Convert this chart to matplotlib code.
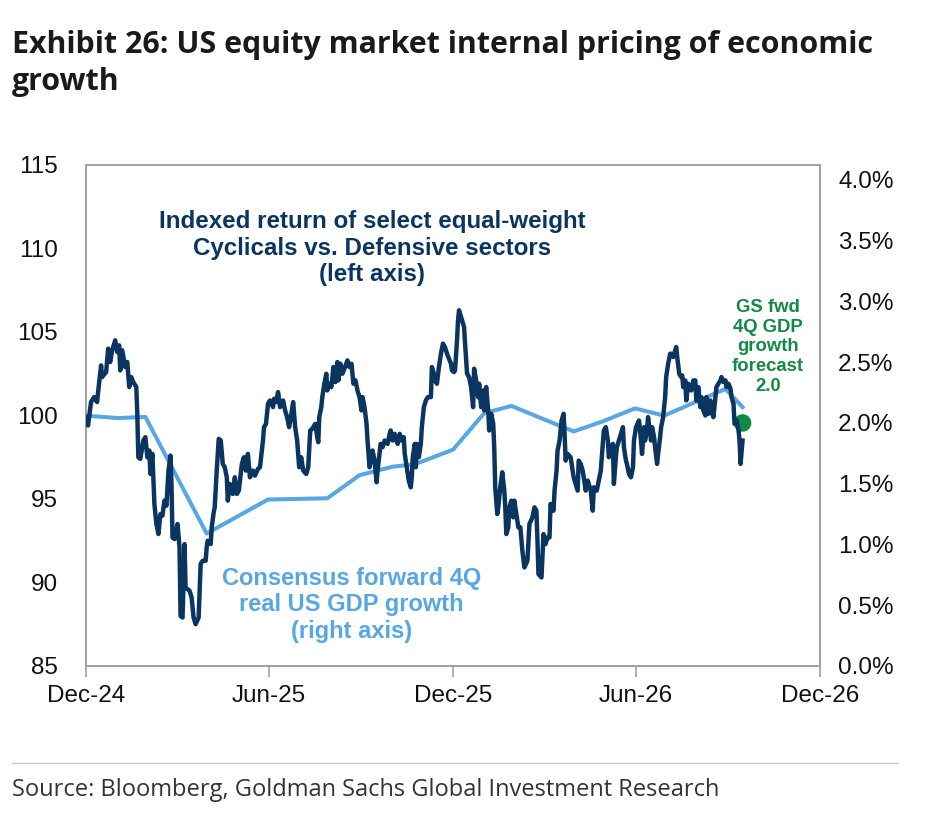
import matplotlib
matplotlib.use("Agg")
import matplotlib.pyplot as plt
from matplotlib.lines import Line2D
import numpy as np
import pandas as pd

# ---------------- data ----------------
start_date = "2024-12-01"

# Indexed return of select equal-weight Cyclicals vs. Defensives (left axis)
cyc_days = [0, 2, 5, 8, 11, 12, 15, 16, 20, 22, 24, 26, 29, 31, 33, 34, 36, 39, 41, 43,
            45, 47, 50, 51, 52, 54, 57, 59, 61, 63, 64, 66, 68, 70, 72, 74, 76, 78, 80, 82,
            84, 85, 86, 88, 91, 93, 94, 96, 98, 99, 103, 105, 107, 109, 112, 114, 116, 119, 120, 121,
            124, 125, 127, 128, 130, 132, 134, 136, 138, 140, 141, 143, 146, 148, 150, 152, 155, 157, 159, 161,
            163, 166, 168, 171, 173, 176, 177, 179, 181, 183, 186, 187, 189, 191, 193, 196, 198, 200, 202, 204,
            206, 208, 210, 212, 214, 216, 219, 221, 223, 225, 228, 230, 231, 232, 234, 235, 237, 239, 240, 242,
            244, 246, 248, 250, 251, 253, 255, 257, 260, 262, 264, 266, 268, 270, 272, 274, 275, 277, 279, 280,
            282, 284, 285, 287, 289, 290, 293, 295, 297, 300, 302, 303, 305, 307, 308, 310, 312, 314, 316, 317,
            319, 321, 323, 324, 325, 327, 328, 329, 331, 333, 334, 336, 338, 340, 343, 344, 346, 347, 349, 351,
            353, 355, 357, 359, 361, 363, 364, 366, 367, 369, 370, 371, 373, 376, 377, 379, 381, 383, 385, 386,
            388, 390, 391, 393, 395, 396, 398, 400, 401, 403, 405, 406, 407, 409, 410, 412, 414, 416, 417, 418,
            420, 421, 423, 425, 426, 428, 430, 432, 434, 436, 439, 441, 444, 446, 448, 449, 450, 453, 455, 457,
            459, 461, 462, 465, 466, 468, 469, 471, 473, 475, 476, 477, 479, 482, 484, 485, 487, 489, 490, 492,
            494, 495, 497, 499, 500, 502, 504, 505, 508, 510, 512, 514, 515, 517, 519, 520, 522, 524, 525, 527,
            528, 530, 532, 534, 535, 537, 538, 540, 542, 544, 545, 547, 550, 552, 553, 555, 556, 558, 559, 562,
            563, 565, 566, 568, 569, 571, 572, 574, 576, 577, 579, 581, 582, 584, 586, 587, 588, 590, 592, 593,
            594, 596, 597, 599, 601, 602, 604, 606, 607, 609, 611, 612, 614, 616, 617, 619, 621, 622, 624, 626,
            627, 629, 631, 632, 634, 636, 637, 639, 641, 642, 644, 645, 646, 647, 649, 650, 651, 653]
cyc_values = [99.9, 99.4, 100.8, 101.1, 100.8, 101.4, 103.0, 102.3, 102.6, 104.0, 103.2, 103.9, 104.5, 103.8, 104.2, 102.7, 103.9, 102.9, 103.2, 101.7,
              102.3, 102.0, 101.7, 100.1, 97.5, 97.4, 98.5, 98.7, 97.5, 97.9, 96.5, 97.7, 94.7, 93.5, 92.9, 94.1, 94.0, 94.9, 94.6, 96.7,
              97.6, 95.9, 92.7, 92.6, 93.5, 92.1, 88.0, 87.9, 92.3, 89.7, 89.5, 89.1, 87.9, 87.5, 87.9, 91.1, 91.3, 91.3, 92.1, 92.5,
              92.3, 93.3, 94.2, 94.5, 96.7, 98.6, 98.5, 97.1, 96.9, 96.3, 94.9, 95.9, 95.3, 96.3, 95.3, 95.5, 97.1, 97.5, 96.7, 97.7,
              96.3, 96.7, 96.4, 96.8, 96.9, 98.5, 99.3, 99.5, 100.7, 100.9, 100.5, 101.0, 100.8, 101.4, 100.5, 100.9, 100.3, 99.9, 99.3, 100.0,
              100.8, 99.3, 98.5, 96.9, 97.5, 96.7, 96.5, 96.9, 99.1, 99.2, 99.5, 98.7, 98.4, 99.9, 100.5, 101.1, 101.9, 102.5, 101.5, 101.9,
              101.7, 102.9, 102.0, 103.2, 102.1, 103.1, 102.5, 102.8, 103.3, 102.9, 103.1, 101.9, 102.1, 101.5, 101.1, 100.3, 101.1, 100.5, 99.5, 98.5,
              96.9, 97.5, 97.9, 97.3, 96.0, 96.7, 98.3, 98.1, 98.5, 98.3, 98.9, 99.1, 98.5, 98.9, 98.6, 98.3, 98.9, 98.5, 98.7, 97.7,
              96.9, 96.1, 95.7, 96.3, 97.5, 98.3, 96.9, 98.3, 97.5, 98.3, 99.3, 100.5, 100.9, 101.1, 101.1, 102.9, 102.5, 102.1, 101.9, 102.9,
              103.7, 104.3, 104.1, 103.7, 103.4, 103.1, 102.7, 102.6, 102.7, 104.5, 105.7, 106.3, 105.9, 105.3, 104.3, 102.5, 102.3, 101.7, 100.5, 102.8,
              102.1, 101.1, 101.9, 100.5, 101.5, 100.3, 101.7, 100.3, 99.1, 100.1, 99.5, 98.1, 95.7, 94.1, 94.5, 95.7, 96.6, 95.5, 94.5, 92.9,
              93.3, 94.5, 94.9, 93.9, 94.9, 94.1, 93.3, 93.3, 91.9, 90.9, 91.3, 93.5, 93.9, 94.5, 94.3, 92.5, 90.5, 90.3, 92.9, 92.3,
              92.7, 92.7, 94.7, 94.3, 95.5, 96.7, 97.9, 98.5, 99.7, 100.1, 98.9, 97.3, 97.7, 97.5, 96.7, 96.3, 95.9, 95.5, 97.3, 97.1,
              96.7, 96.3, 95.5, 96.1, 95.9, 95.5, 94.3, 95.7, 95.5, 96.1, 96.7, 98.3, 99.1, 99.3, 98.5, 97.5, 98.1, 98.3, 95.9, 97.5,
              98.1, 98.5, 98.9, 99.3, 98.1, 97.3, 97.1, 96.5, 96.3, 96.9, 98.5, 99.3, 99.7, 98.5, 97.7, 99.3, 98.5, 99.1, 99.9, 98.5,
              99.3, 98.7, 98.1, 97.1, 97.7, 98.7, 99.3, 99.9, 101.1, 102.3, 103.1, 103.7, 103.7, 103.5, 103.9, 104.1, 103.5, 102.5, 102.3, 102.4,
              101.7, 102.1, 100.9, 101.9, 101.7, 101.5, 102.1, 102.1, 100.9, 101.7, 100.5, 101.1, 100.3, 100.0, 101.1, 100.1, 100.9, 100.3, 99.9, 101.1,
              101.7, 101.9, 102.1, 102.3, 102.0, 102.1, 101.7, 101.9, 101.6, 101.1, 100.7, 99.5, 99.5, 99.7, 99.1, 98.5, 97.1, 98.5]

# Consensus forward 4Q real US GDP growth, % (right axis)
gdp_days = [0, 32, 59, 120, 181, 240, 272, 305, 327, 365, 396, 423, 485, 513, 546, 575, 636, 653]
gdp_values = [2.06, 2.04, 2.05, 1.09, 1.37, 1.38, 1.57, 1.64, 1.66, 1.78, 2.08, 2.14, 1.93, 2.01, 2.12, 2.06, 2.28, 2.13]

# GS forecast point
gs_day = 653
gs_value = 2.0

left_ticks = [85, 90, 95, 100, 105, 110, 115]
right_ticks = [0.0, 0.5, 1.0, 1.5, 2.0, 2.5, 3.0, 3.5, 4.0]
x_tick_dates = ["2024-12-01", "2025-06-01", "2025-12-01", "2026-06-01", "2026-12-01"]
x_tick_labels = ["Dec-24", "Jun-25", "Dec-25", "Jun-26", "Dec-26"]

# ---------------- styling ----------------
NAVY = "#0b3561"
LBLUE = "#56a7e3"
GREEN = "#138a43"
SPINE = "#a0a0a0"
TICKFONT = ["Liberation Sans", "DejaVu Sans"]
ANNFONT = ["Liberation Sans", "DejaVu Sans"]
HEADFONT = ["Open Sans", "DejaVu Sans"]

base = pd.Timestamp(start_date)
cyc_dates = base + pd.to_timedelta(cyc_days, unit="D")
gdp_dates = base + pd.to_timedelta(gdp_days, unit="D")
gs_date = base + pd.to_timedelta(gs_day, unit="D")

fig = plt.figure(figsize=(9.3, 8.22), dpi=100)
ax = fig.add_axes([0.0925, 0.1898, 0.7892, 0.6095])
ax2 = ax.twinx()

ax.plot(cyc_dates, cyc_values, color=NAVY, lw=3.2, solid_joinstyle="round", zorder=3)
ax2.plot(gdp_dates, gdp_values, color=LBLUE, lw=2.9, solid_joinstyle="round", zorder=2)
ax2.scatter([gs_date], [gs_value], s=160, color=GREEN, zorder=5, edgecolors="none")

ax.set_zorder(ax2.get_zorder() + 1)
ax.patch.set_visible(False)

ax.set_xlim(pd.Timestamp(x_tick_dates[0]), pd.Timestamp(x_tick_dates[-1]))
ax.set_ylim(85, 115)
ax2.set_ylim(0, 4.123)

ax.set_xticks(pd.to_datetime(x_tick_dates))
ax.set_xticklabels(x_tick_labels)
ax.set_yticks(left_ticks)
ax.set_yticklabels([str(t) for t in left_ticks])
ax2.set_yticks(right_ticks)
ax2.set_yticklabels([f"{t:.1f}%" for t in right_ticks])

for a in (ax, ax2):
    for s in a.spines.values():
        s.set_color(SPINE)
        s.set_linewidth(1.2)

ax.tick_params(axis="x", direction="out", length=8, width=1.2, color=SPINE, pad=6,
               labelsize=17.5, labelcolor="#111111")
ax.tick_params(axis="y", length=0, pad=20, labelsize=17.5, labelcolor="#111111")
ax2.tick_params(axis="y", length=0, pad=13, labelsize=17.5, labelcolor="#111111")
for lab in ax.get_xticklabels() + ax.get_yticklabels() + ax2.get_yticklabels():
    lab.set_family(TICKFONT)

# annotations
ax.text(0.39, 0.834, "Indexed return of select equal-weight\nCyclicals vs. Defensive sectors\n(left axis)",
        transform=ax.transAxes, ha="center", va="center", color=NAVY, fontsize=17.4,
        fontweight="bold", family=ANNFONT, linespacing=1.2)
ax.text(0.362, 0.122, "Consensus forward 4Q\nreal US GDP growth\n(right axis)",
        transform=ax.transAxes, ha="center", va="center", color=LBLUE, fontsize=17,
        fontweight="bold", family=ANNFONT, linespacing=1.2)
ax.text(0.929, 0.637, "GS fwd\n4Q GDP\ngrowth\nforecast\n2.0",
        transform=ax.transAxes, ha="center", va="center", color=GREEN, fontsize=13.3,
        fontweight="bold", family=ANNFONT, linespacing=1.2)

# title & source
fig.text(12 / 930, 1 - 30 / 822, "Exhibit 26: US equity market internal pricing of economic\ngrowth",
         ha="left", va="top", fontsize=21.9, fontweight="bold", color="#1a1a1a",
         family=HEADFONT, linespacing=1.32)
fig.text(12 / 930, 1 - 790 / 822, "Source: Bloomberg, Goldman Sachs Global Investment Research",
         ha="left", va="center", fontsize=17, color="#333333", family=HEADFONT)
fig.add_artist(Line2D([12 / 930, 898 / 930], [1 - 763 / 822, 1 - 763 / 822],
                      color="#c8c8c8", lw=1.0, transform=fig.transFigure))

fig.savefig("out.png", dpi=100)
